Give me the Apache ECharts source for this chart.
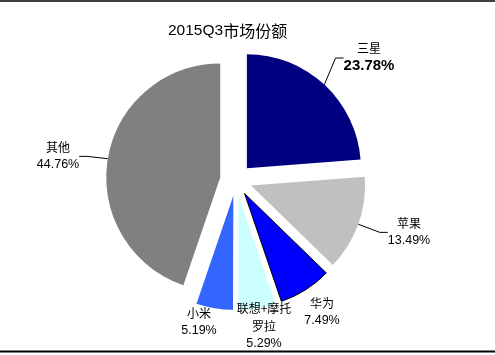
<!DOCTYPE html>
<html><head><meta charset="utf-8">
<script src="https://cdn.jsdelivr.net/npm/echarts@6/dist/echarts.min.js"></script>
<style>html,body{margin:0;padding:0;background:#fff}#c{width:495px;height:355px}</style>
</head><body><div id="c"></div>
<script>
const categories = ['三星', '苹果', '华为', '联想+摩托罗拉', '小米', '其他'];
const shares = [23.78, 13.49, 7.49, 5.29, 5.19, 44.76];
const colors = ['#000080', '#C0C0C0', '#0000FF', '#CCFFFF', '#3366FF', '#808080'];
const titleLatin = '2015Q3';
const titleCJK = '市场份额';

const labelPos = [[369, 57], [409, 232], [322, 312], [264, 326], [199, 322], [58, 156]];
const showLine = [true, true, false, false, false, true];
const FONT = '"Liberation Sans", Arial, "Noto Sans CJK SC", sans-serif';
const CJK = '"Noto Sans CJK SC", sans-serif';
const CX = 236, CY = 180, R = 114, EXPLODE = 16;

const total = shares.reduce((a, b) => a + b, 0);
let cum = 0;
const series = categories.map((name, i) => {
  const mid = (cum + shares[i] / 2) / total * 2 * Math.PI;
  cum += shares[i];
  const dx = EXPLODE * Math.sin(mid), dy = -EXPLODE * Math.cos(mid);
  return {
    type: 'pie',
    center: [CX + dx, CY + dy],
    radius: R,
    startAngle: 90,
    clockwise: true,
    avoidLabelOverlap: false,
    silent: true,
    emphasis: { disabled: true },
    z: 2,
    data: categories.map((n, j) => ({
      name: n,
      value: shares[j],
      itemStyle: j === i ? {
        color: colors[j],
        borderColor: j === 2 ? '#000' : 'rgba(0,0,0,0)',
        borderWidth: j === 2 ? 1 : 0
      } : { color: 'rgba(0,0,0,0)', borderWidth: 0 },
      label: { show: j === i },
      labelLine: { show: j === i && showLine[j] }
    })),
    label: {
      position: 'outside',
      color: '#000',
      fontFamily: FONT,
      formatter: function (p) {
        const nm = p.name.length > 5 ? p.name.slice(0, 5) + '\n' + p.name.slice(5) : p.name;
        const names = nm.split('\n').map(s => '{n|' + s + '}').join('\n');
        const st = p.dataIndex === 0 ? 'b' : 'v';
        return names + '\n{' + st + '|' + p.value.toFixed(2) + '%}';
      },
      rich: {
        n: { fontFamily: CJK, fontSize: 12, lineHeight: 18, align: 'center', color: '#000' },
        v: { fontFamily: FONT, fontSize: 12.5, lineHeight: 17, align: 'center', color: '#000' },
        b: { fontFamily: FONT, fontSize: 15, fontWeight: 'bold', lineHeight: 17, align: 'center', color: '#000' }
      }
    },
    labelLine: { length: 16, length2: 8, lineStyle: { color: '#000', width: 1 } },
    labelLayout: function (params) {
      const p = labelPos[params.dataIndex];
      return { x: p[0], y: p[1], align: 'center', verticalAlign: 'middle' };
    }
  };
});

const chart = echarts.init(document.getElementById('c'), null, { renderer: 'canvas' });
chart.setOption({
  animation: false,
  backgroundColor: '#fff',
  title: {
    text: '{a|' + titleLatin + '}{c|' + titleCJK + '}', left: 163, top: 18,
    textStyle: {
      fontFamily: FONT, fontSize: 15, fontWeight: 'normal', color: '#000',
      rich: {
        a: { fontFamily: FONT, fontSize: 15.5, fontWeight: 'normal', color: '#000' },
        c: { fontFamily: CJK, fontSize: 16, fontWeight: 'normal', color: '#000' }
      }
    }
  },
  graphic: [
    { type: 'line', shape: { x1: 0, y1: 1, x2: 495, y2: 1 }, style: { stroke: '#000', lineWidth: 1.5 } },
    { type: 'line', shape: { x1: 0, y1: 351.5, x2: 495, y2: 351.5 }, style: { stroke: '#000', lineWidth: 2 } }
  ],
  series: series
});
</script></body></html>
